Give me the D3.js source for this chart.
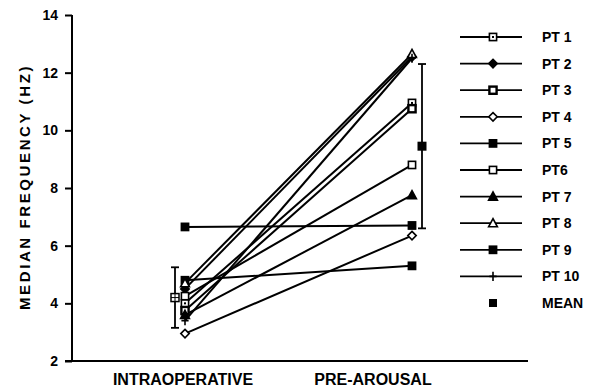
<!DOCTYPE html>
<html><head><meta charset="utf-8">
<script src="https://cdn.jsdelivr.net/npm/d3@7"></script>
<style>body{margin:0;background:#fff}</style>
</head><body>
<svg id="c" width="601" height="388"></svg>
<script>
const phases = ["INTRAOPERATIVE", "PRE-AROUSAL"];
const patients = ["PT 1","PT 2","PT 3","PT 4","PT 5","PT6","PT 7","PT 8","PT 9","PT 10"];
const intraop = [4.0, 4.5, 3.75, 2.95, 4.8, 4.25, 3.6, 4.7, 6.65, 3.4];
const prearousal = [10.95, 12.55, 10.75, 6.35, 5.3, 8.8, 7.75, 12.65, 6.7, 12.5];
const symbols = ["sqdot","diamondFill","sqThick","diamondOpen","sqFill","sqOpen","triFill","triOpen","sqFill","plus"];
const meanVals = [4.2, 9.45];
const sdVals = [1.05, 2.85];
const yTicks = [2,4,6,8,10,12,14];

const svg = d3.select("#c");
const y = d3.scaleLinear().domain([2,14]).range([361,15]);
const x = d3.scaleLinear().domain([0,1]).range([185,412]);

// axes
svg.append("line").attr("x1",72).attr("x2",72).attr("y1",15).attr("y2",361).attr("stroke","#000").attr("stroke-width",2);
svg.append("line").attr("x1",65).attr("x2",528).attr("y1",361).attr("y2",361).attr("stroke","#000").attr("stroke-width",2);
const yAxis = d3.axisLeft(y).tickValues(yTicks).tickSize(7).tickSizeOuter(0);
const gy = svg.append("g").attr("transform","translate(72,0)").call(yAxis);
gy.select(".domain").remove();
gy.selectAll("line").attr("stroke-width",2);
gy.selectAll("text").attr("font-family","Liberation Sans, Arial, sans-serif").attr("font-weight","bold").attr("font-size",14).attr("dx",-4);

svg.append("text").attr("transform","translate(30,187) rotate(-90)").attr("text-anchor","middle")
  .attr("font-family","Liberation Sans, Arial, sans-serif").attr("font-weight","bold").attr("font-size",15)
  .attr("letter-spacing",2.6).text("MEDIAN  FREQUENCY  (HZ)");

const xlabPos = [183, 373];
phases.forEach((p,i)=>{
  svg.append("text").attr("x",xlabPos[i]).attr("y",385).attr("text-anchor","middle")
    .attr("font-family","Liberation Sans, Arial, sans-serif").attr("font-weight","bold").attr("font-size",16).text(p);
});

function drawSym(g, type, cx, cy) {
  const s = 3.6;
  if (type.startsWith("sq")) {
    g.append("rect").attr("x",cx-s).attr("y",cy-s).attr("width",2*s).attr("height",2*s)
      .attr("fill", type==="sqFill"?"#000":"#fff").attr("stroke","#000").attr("stroke-width", type==="sqThick"?2.4:1.6);
    if (type==="sqdot") g.append("rect").attr("x",cx-1).attr("y",cy-1).attr("width",2).attr("height",2).attr("fill","#000");
  } else if (type.startsWith("diamond")) {
    g.append("path").attr("d",`M${cx},${cy-s-0.6}L${cx+s+0.6},${cy}L${cx},${cy+s+0.6}L${cx-s-0.6},${cy}Z`)
      .attr("fill", type==="diamondFill"?"#000":"#fff").attr("stroke","#000").attr("stroke-width",1.6);
  } else if (type.startsWith("tri")) {
    g.append("path").attr("d",`M${cx},${cy-s-1}L${cx+s+0.8},${cy+s}L${cx-s-0.8},${cy+s}Z`)
      .attr("fill", type==="triFill"?"#000":"#fff").attr("stroke","#000").attr("stroke-width",1.6);
  } else if (type==="plus") {
    g.append("path").attr("d",`M${cx-s},${cy}H${cx+s}M${cx},${cy-s-1}V${cy+s+1}`).attr("stroke","#000").attr("stroke-width",1.6);
  }
}

// patient lines
const lines = svg.append("g");
patients.forEach((p,i)=>{
  lines.append("line").attr("x1",x(0)).attr("y1",y(intraop[i])).attr("x2",x(1)).attr("y2",y(prearousal[i]))
    .attr("stroke","#000").attr("stroke-width",2);
});
const marks = svg.append("g");
patients.forEach((p,i)=>{
  drawSym(marks, symbols[i], x(0), y(intraop[i]));
  drawSym(marks, symbols[i], x(1), y(prearousal[i]));
});

// mean with error bars
const meanOffset = [-10, 10];
meanVals.forEach((m,i)=>{
  const cx = x(i)+meanOffset[i];
  const g = svg.append("g");
  g.append("line").attr("x1",cx).attr("x2",cx).attr("y1",y(m+sdVals[i])).attr("y2",y(m-sdVals[i])).attr("stroke","#000").attr("stroke-width",1.8);
  [m+sdVals[i], m-sdVals[i]].forEach(v=>g.append("line").attr("x1",cx-4).attr("x2",cx+4).attr("y1",y(v)).attr("y2",y(v)).attr("stroke","#000").attr("stroke-width",1.8));
  if (i===0) {
    g.append("rect").attr("x",cx-4).attr("y",y(m)-4).attr("width",8).attr("height",8).attr("fill","#fff").attr("stroke","#000").attr("stroke-width",1.5);
    g.append("line").attr("x1",cx-4).attr("x2",cx+4).attr("y1",y(m)).attr("y2",y(m)).attr("stroke","#000").attr("stroke-width",1);
    g.append("line").attr("x1",cx).attr("x2",cx).attr("y1",y(m)-4).attr("y2",y(m)+4).attr("stroke","#000").attr("stroke-width",1);
  } else {
    g.append("rect").attr("x",cx-4.5).attr("y",y(m)-4.5).attr("width",9).attr("height",9).attr("fill","#000");
  }
});

// legend
const leg = svg.append("g");
const legLabels = patients.concat(["MEAN"]);
const legY = d3.scaleLinear().domain([0,10]).range([37,303]);
legLabels.forEach((l,i)=>{
  const ly = legY(i);
  if (i<10) {
    leg.append("line").attr("x1",460).attr("x2",522).attr("y1",ly).attr("y2",ly).attr("stroke","#000").attr("stroke-width",1.8);
    drawSym(leg, symbols[i], 493, ly);
  } else {
    leg.append("rect").attr("x",489).attr("y",ly-4).attr("width",8).attr("height",8).attr("fill","#000");
  }
  leg.append("text").attr("x",542).attr("y",ly+5).attr("font-family","Liberation Sans, Arial, sans-serif")
    .attr("font-weight","bold").attr("font-size",14).text(l);
});
</script>
</body></html>
